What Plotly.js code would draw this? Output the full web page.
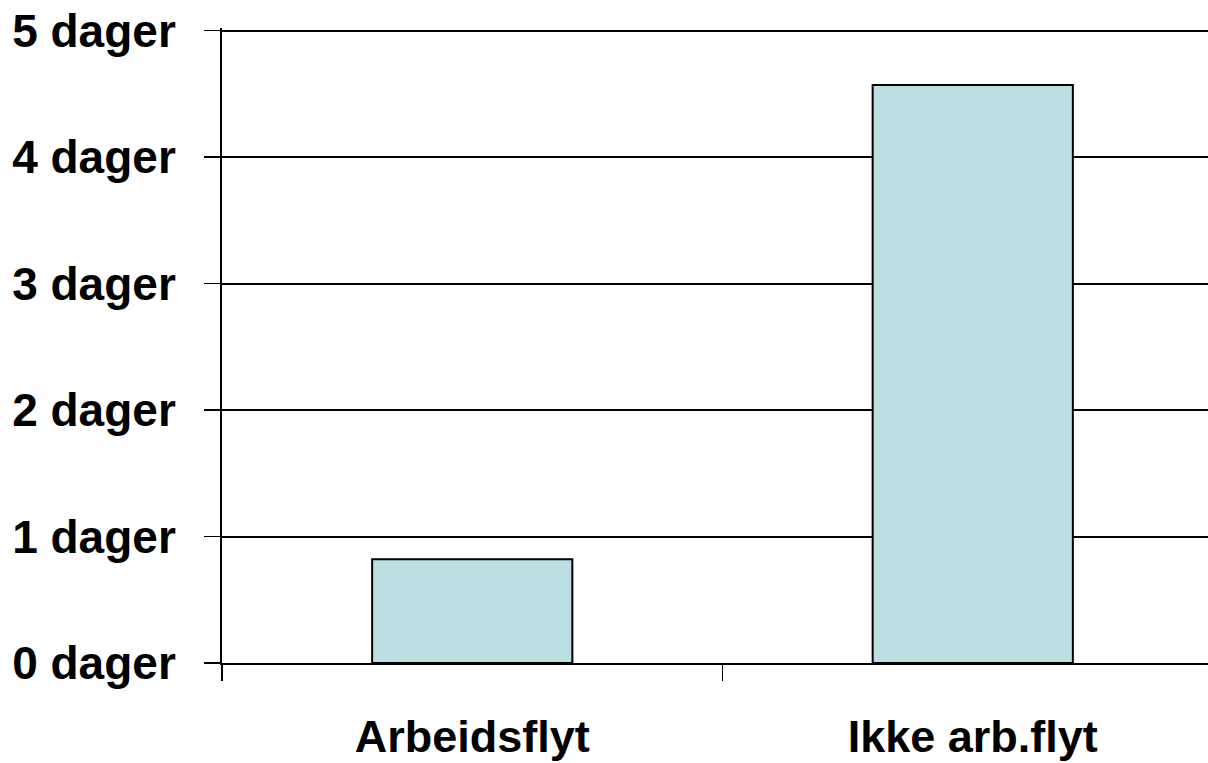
<!DOCTYPE html>
<html>
<head>
<meta charset="utf-8">
<script src="https://cdn.plot.ly/plotly-3.0.1.min.js"></script>
<style>
html,body{margin:0;padding:0;overflow:hidden;background:#fff;}
#chart{width:1240px;height:763px;}
</style>
</head>
<body>
<div id="chart"></div>
<script>
const categories = ["Arbeidsflyt", "Ikke arb.flyt"];
const values = [0.82, 4.57];
const yTickVals = [0, 1, 2, 3, 4, 5];
const yTickText = ["0 dager", "1 dager", "2 dager", "3 dager", "4 dager", "5 dager"];

const trace = {
  type: "bar",
  x: categories,
  y: values,
  width: 0.4,
  marker: {color: "#BBE0E3", line: {color: "#000", width: 2}},
  hoverinfo: "skip"
};

const yMax = yTickVals[yTickVals.length - 1];

const layout = {
  width: 1240,
  height: 763,
  margin: {l: 222, r: 17, t: 28, b: 100},
  paper_bgcolor: "#fff",
  plot_bgcolor: "#fff",
  showlegend: false,
  font: {family: "Liberation Sans, Arial, sans-serif", color: "#000"},
  xaxis: {
    type: "category",
    showline: true, linecolor: "#000", linewidth: 2,
    ticks: "outside", tickson: "boundaries", ticklen: 16, tickwidth: 1.5, tickcolor: "#000",
    showgrid: false, zeroline: false,
    tickfont: {size: 45, family: "Liberation Sans, Arial, sans-serif", weight: "bold", color: "#000"},
    ticklabelstandoff: 33
  },
  yaxis: {
    range: [0, yMax * 1.004],
    tickvals: yTickVals,
    ticktext: yTickText,
    showline: true, linecolor: "#000", linewidth: 2,
    ticks: "outside", ticklen: 16, tickwidth: 1.5, tickcolor: "#000",
    showgrid: true, gridcolor: "#000", gridwidth: 2,
    zeroline: false,
    tickfont: {size: 46, family: "Liberation Sans, Arial, sans-serif", weight: "bold", color: "#000"},
    ticklabelstandoff: 19
  }
};

Plotly.newPlot("chart", [trace], layout, {displayModeBar: false, staticPlot: true});
</script>
</body>
</html>
